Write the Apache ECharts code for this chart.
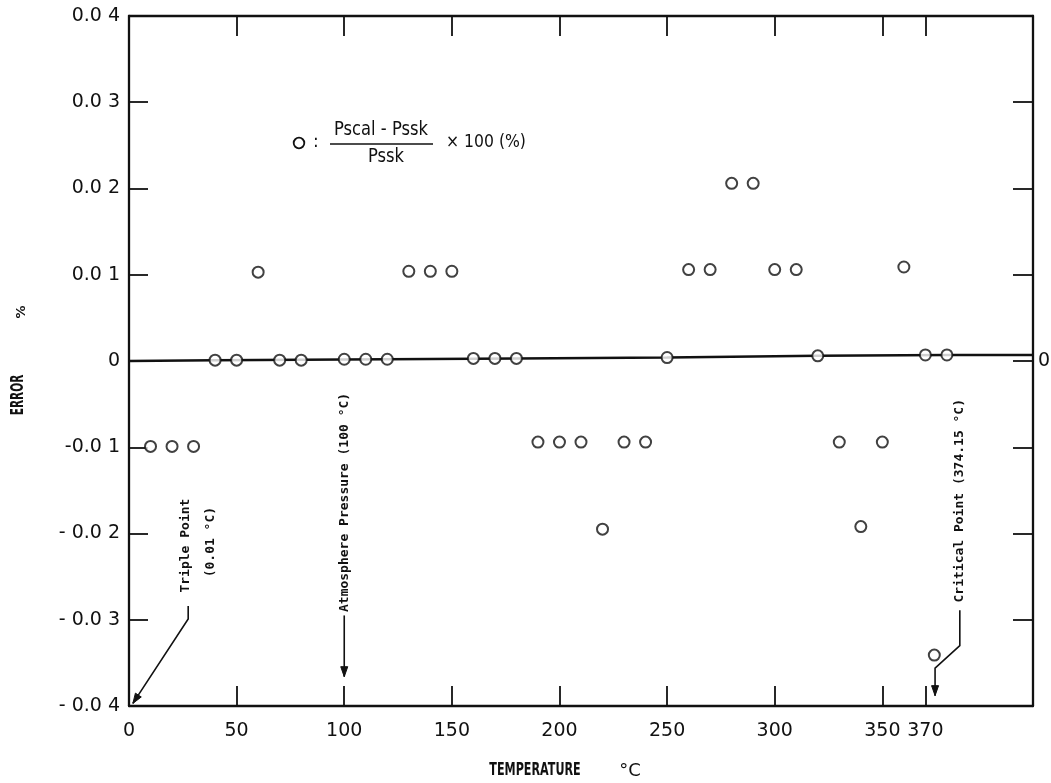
<!DOCTYPE html>
<html>
<head>
<meta charset="utf-8">
<script src="https://cdn.jsdelivr.net/npm/echarts@6/dist/echarts.min.js"></script>
<style>
html,body{margin:0;padding:0;background:#fff;}
#c{width:1051px;height:783px;}
</style>
</head>
<body>
<div id="c"></div>
<script>
// ---- data ----
const tempC = [10,20,30,40,50,60,70,80,100,110,120,130,140,150,160,170,180,190,200,210,220,230,240,250,260,270,280,290,300,310,320,330,340,350,360,370,374.15,380];
const errorPct = [-0.0099,-0.0099,-0.0099,0.0001,0.0001,0.0103,0.0001,0.0001,0.0002,0.0002,0.0002,0.0104,0.0104,0.0104,0.0003,0.0003,0.0003,-0.0094,-0.0094,-0.0094,-0.0195,-0.0094,-0.0094,0.0004,0.0106,0.0106,0.0206,0.0206,0.0106,0.0106,0.0006,-0.0094,-0.0192,-0.0094,0.0109,0.0007,-0.0341,0.0007];
const baseLineX = [0,40,180,250,320,380,420];
const baseLineY = [0,0.0001,0.0003,0.0004,0.0006,0.0007,0.0007];
const xTickValues = [0,50,100,150,200,250,300,350,370];
const xTickLabels = ['0','50','100','150','200','250','300','350','370'];
const yTickValues = [-0.04,-0.03,-0.02,-0.01,0,0.01,0.02,0.03,0.04];
const yTickLabels = ['- 0.0 4','- 0.0 3','- 0.0 2','-0.0 1','0','0.0 1','0.0 2','0.0 3','0.0 4'];

const INK = '#111';
const chart = echarts.init(document.getElementById('c'));

function yLabel(v){
  const i = yTickValues.findIndex(t => Math.abs(t - v) < 1e-6);
  return i >= 0 ? yTickLabels[i] : '';
}
function xLabel(v){
  const i = xTickValues.findIndex(t => Math.abs(t - v) < 1e-6);
  return i >= 0 ? xTickLabels[i] : '';
}

const axisLineStyle = {color: INK, width: 2.3};
const tickStyle = {color: INK, width: 1.8};
const labelFont = {fontFamily: 'DejaVu Sans', fontSize: 19, color: INK};

chart.setOption({
  backgroundColor: '#fff',
  animation: false,
  grid: {left: 129, right: 18, top: 16, bottom: 77, containLabel: false, outerBoundsMode: 'none'},
  xAxis: [
    {type: 'value', min: 0, max: 420, position: 'bottom',
     axisLine: {show: true, onZero: false, lineStyle: axisLineStyle},
     splitLine: {show: false},
     axisTick: {show: true, inside: true, length: 20, customValues: xTickValues.slice(1), lineStyle: tickStyle},
     axisLabel: Object.assign({show: true, customValues: xTickValues, formatter: xLabel, margin: 16}, labelFont)},
    {type: 'value', min: 0, max: 420, position: 'top',
     axisLine: {show: true, onZero: false, lineStyle: axisLineStyle},
     splitLine: {show: false},
     axisTick: {show: true, inside: true, length: 20, customValues: xTickValues.slice(1), lineStyle: tickStyle},
     axisLabel: {show: false}}
  ],
  yAxis: [
    {type: 'value', min: -0.04, max: 0.04, interval: 0.01, position: 'left',
     axisLine: {show: true, onZero: false, lineStyle: axisLineStyle},
     splitLine: {show: false},
     axisTick: {show: true, inside: true, length: 19, lineStyle: tickStyle},
     axisLabel: Object.assign({formatter: yLabel, margin: 9}, labelFont)},
    {type: 'value', min: -0.04, max: 0.04, interval: 0.01, position: 'right',
     axisLine: {show: true, onZero: false, lineStyle: axisLineStyle},
     splitLine: {show: false},
     axisTick: {show: true, inside: true, length: 20, lineStyle: tickStyle},
     axisLabel: Object.assign({customValues: [0], formatter: () => '0', margin: 5}, labelFont)}
  ],
  series: [
    {type: 'line', name: 'base', xAxisIndex: 0, yAxisIndex: 0,
     data: baseLineX.map((x, i) => [x, baseLineY[i]]),
     showSymbol: false, symbol: 'none', silent: true, z: 2,
     lineStyle: {color: INK, width: 2.5}},
    {type: 'scatter', name: 'error', xAxisIndex: 0, yAxisIndex: 0,
     data: tempC.map((x, i) => [x, errorPct[i]]),
     symbol: 'circle', symbolSize: 11, z: 3,
     itemStyle: {color: '#fff', borderColor: INK, borderWidth: 2}}
  ]
});

// ---- annotations anchored in data units ----
const P = (x, y) => chart.convertToPixel({xAxisIndex: 0, yAxisIndex: 0}, [x, y]);
const g = [];
function leader(pts){
  const px = pts.map(p => P(p[0], p[1]));
  g.push({type: 'polyline', shape: {points: px}, style: {stroke: INK, lineWidth: 1.6, fill: null}, z: 10});
  const a = px[px.length - 2], b = px[px.length - 1];
  const dx = b[0] - a[0], dy = b[1] - a[1], L = Math.hypot(dx, dy);
  const ux = dx / L, uy = dy / L, len = 10, hw = 3.5;
  const bx = b[0] - ux * len, by = b[1] - uy * len;
  g.push({type: 'polygon', shape: {points: [b, [bx - uy * hw, by + ux * hw], [bx + uy * hw, by - ux * hw]]},
          style: {fill: INK, stroke: INK, lineWidth: 1}, z: 10});
}
function vtext(str, x, y, size){
  const p = P(x, y);
  g.push({type: 'text', x: p[0], y: p[1], rotation: Math.PI / 2, z: 10,
          style: {text: str, font: 'bold ' + (size || 13) + 'px "DejaVu Sans Mono"', fill: INK, align: 'center', verticalAlign: 'middle'}});
}
leader([[27.5, -0.0284], [27.5, -0.0299], [1.8, -0.0397]]);
leader([[100, -0.0295], [100, -0.0366]]);
leader([[386, -0.0289], [386, -0.0330], [374.5, -0.0356], [374.5, -0.0388]]);
vtext('Triple Point', 26.5, -0.0214);
vtext('(0.01 °C)', 38, -0.0210);
vtext('Atmosphere Pressure (100 °C)', 100.2, -0.0164);
vtext('Critical Point (374.15 °C)', 385.7, -0.0162);

// formula legend
g.push({type: 'circle', shape: {cx: 299, cy: 143, r: 5.3}, style: {fill: '#fff', stroke: INK, lineWidth: 1.8}, z: 10});
g.push({type: 'text', x: 313, y: 143, style: {text: ':', font: '17px "DejaVu Sans"', fill: INK, verticalAlign: 'middle'}, z: 10});
g.push({type: 'text', x: 381, y: 130, scaleX: 0.86, style: {text: 'Pscal - Pssk', font: '19px "DejaVu Sans"', fill: INK, align: 'center', verticalAlign: 'middle'}, z: 10});
g.push({type: 'line', shape: {x1: 330, y1: 144, x2: 433, y2: 144}, style: {stroke: INK, lineWidth: 1.5}, z: 10});
g.push({type: 'text', x: 386, y: 157, scaleX: 0.86, style: {text: 'Pssk', font: '19px "DejaVu Sans"', fill: INK, align: 'center', verticalAlign: 'middle'}, z: 10});
g.push({type: 'text', x: 446, y: 143, scaleX: 0.92, style: {text: '× 100 (%)', font: '17px "DejaVu Sans"', fill: INK, verticalAlign: 'middle'}, z: 10});

// axis titles
g.push({type: 'text', x: 19, y: 395, rotation: Math.PI / 2, scaleX: 0.62, style: {text: 'ERROR', font: 'bold 17px "DejaVu Sans"', fill: INK, align: 'center', verticalAlign: 'middle'}, z: 10});
g.push({type: 'text', x: 22, y: 312, rotation: Math.PI / 2, style: {text: '%', font: 'bold 13px "DejaVu Sans"', fill: INK, align: 'center', verticalAlign: 'middle'}, z: 10});
g.push({type: 'text', x: 535, y: 770, scaleX: 0.62, style: {text: 'TEMPERATURE', font: 'bold 18px "DejaVu Sans"', fill: INK, align: 'center', verticalAlign: 'middle'}, z: 10});
g.push({type: 'text', x: 630, y: 771, style: {text: '°C', font: '18px "DejaVu Sans"', fill: INK, align: 'center', verticalAlign: 'middle'}, z: 10});

chart.setOption({graphic: g});
</script>
</body>
</html>
